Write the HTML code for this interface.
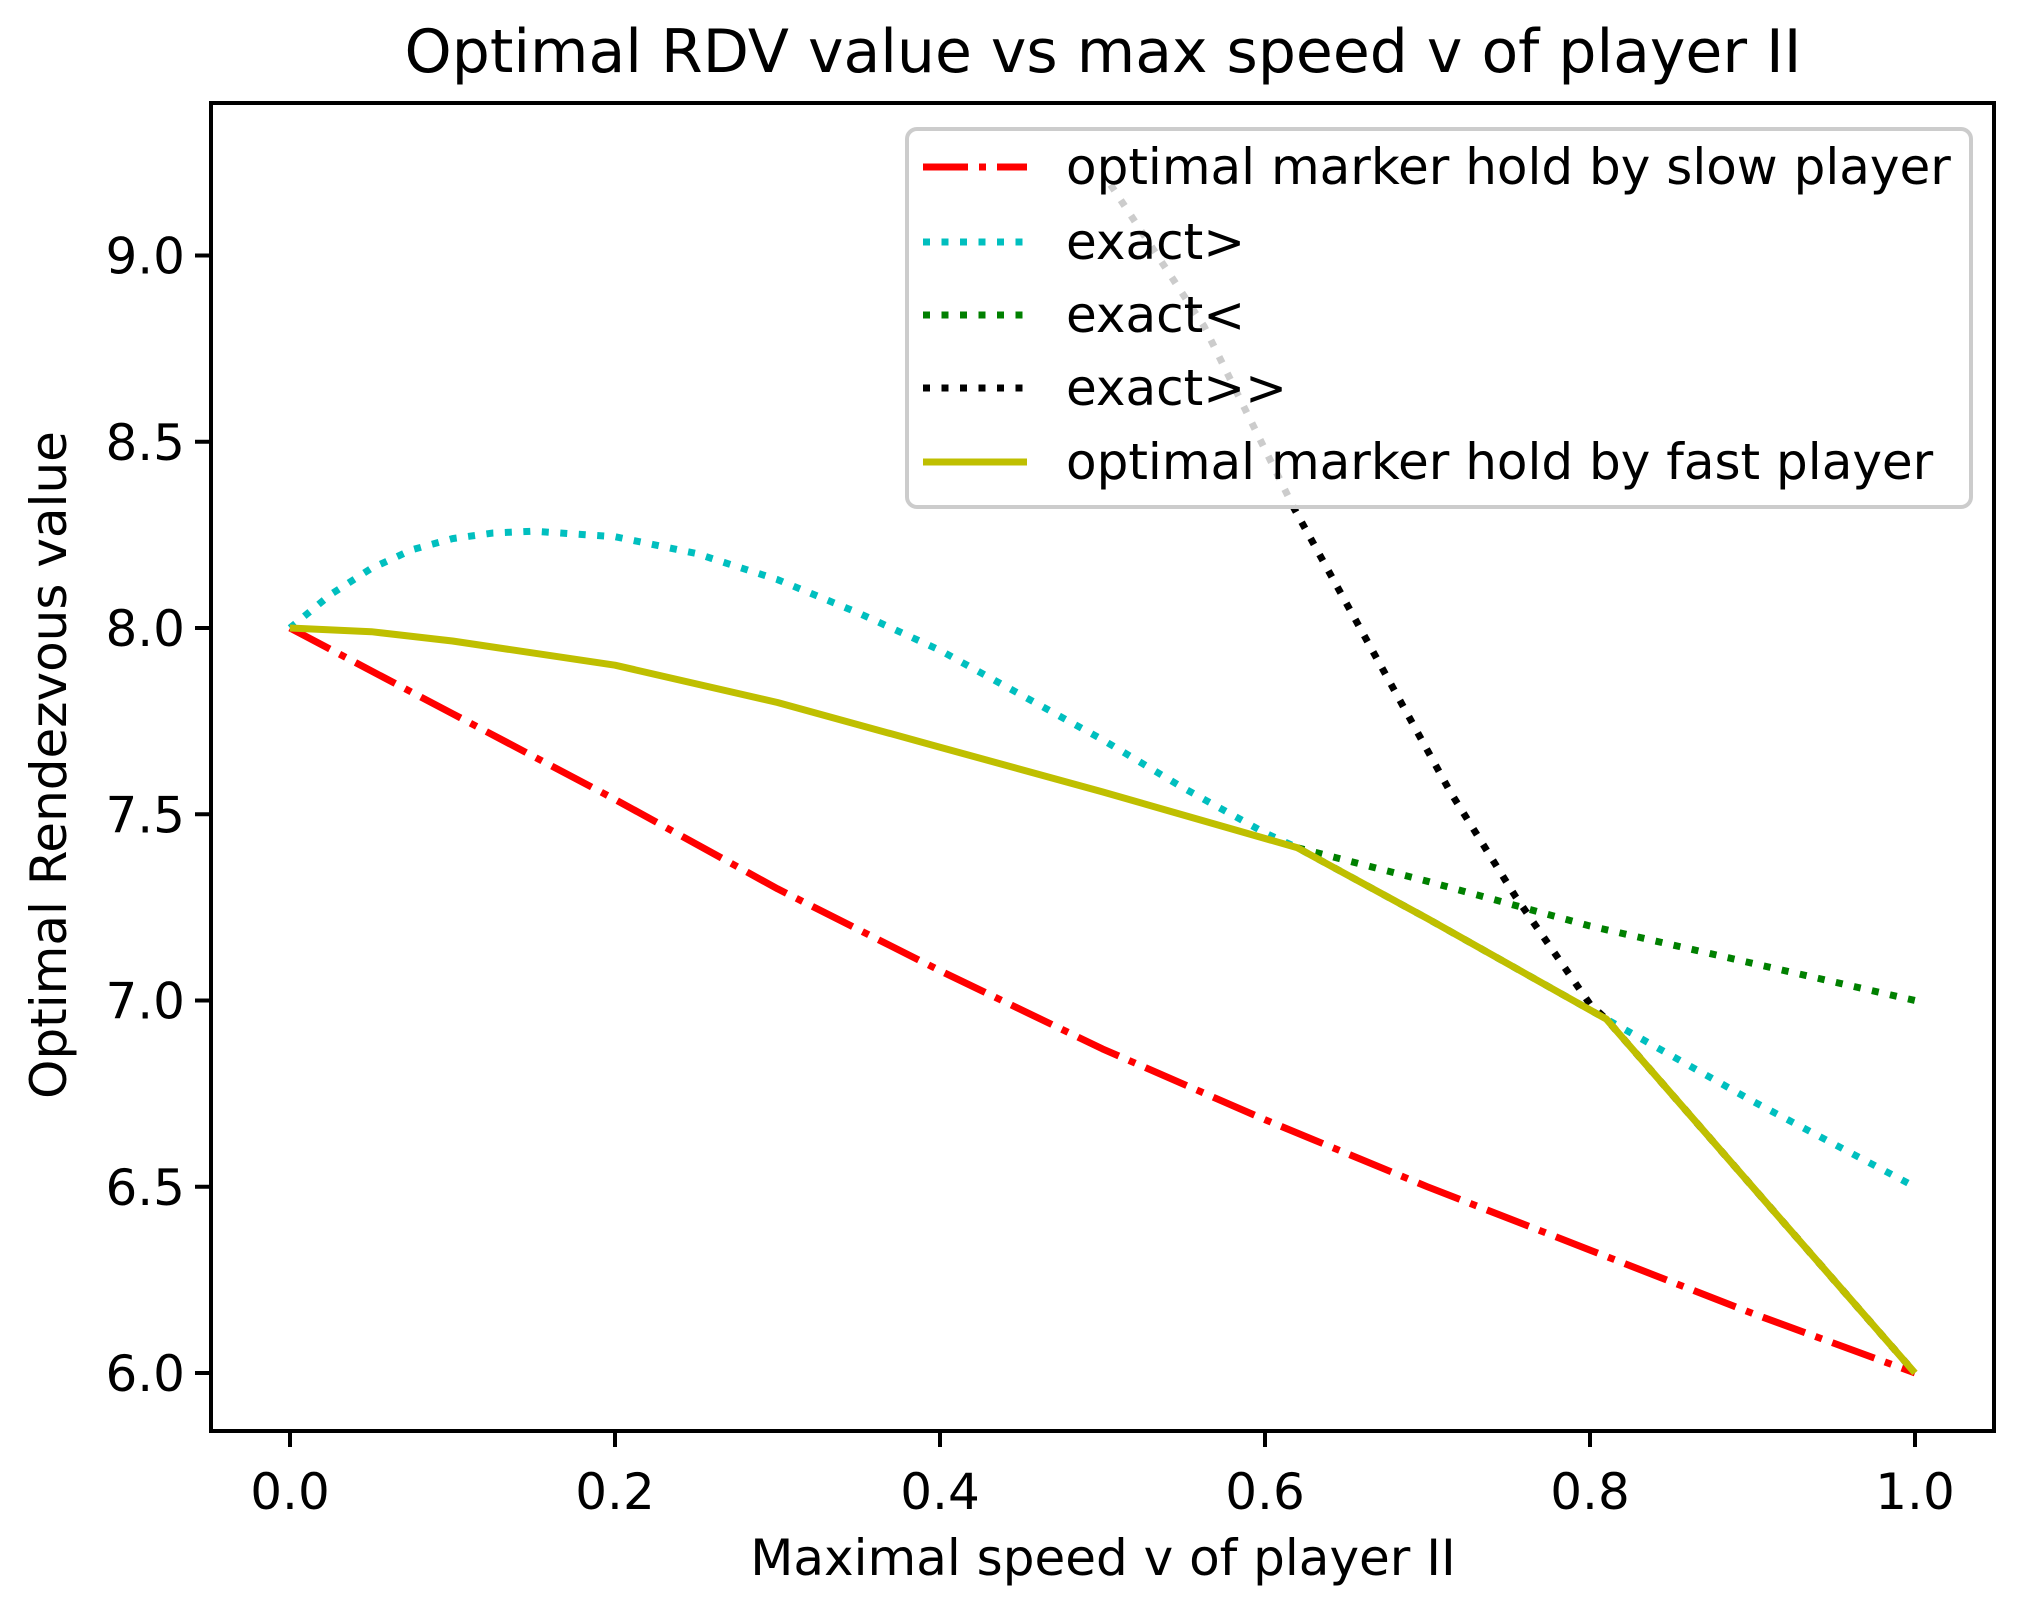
<!DOCTYPE html>
<html><head><meta charset="utf-8"><style>
html,body{margin:0;padding:0;background:#fff}
svg{display:block;font-family:"DejaVu Sans","Liberation Sans",sans-serif}
</style></head><body>
<svg id="chart" width="2033" height="1609" viewBox="0 0 2033 1609" xmlns="http://www.w3.org/2000/svg">
<rect width="2033" height="1609" fill="#fff"/>
<text x="1103" y="72" text-anchor="middle" font-size="60">Optimal RDV value vs max speed v of player II</text>
<g id="plot"></g>
<g id="axes"></g>
<text x="1103" y="1575" text-anchor="middle" font-size="50">Maximal speed v of player II</text>
<text x="0" y="0" transform="translate(66,765) rotate(-90)" text-anchor="middle" font-size="50">Optimal Rendezvous value</text>
<g id="legend"></g>
</svg>
<script>
const xTicks = [0.0, 0.2, 0.4, 0.6, 0.8, 1.0];
const xTickLabels = ["0.0","0.2","0.4","0.6","0.8","1.0"];
const yTicks = [6.0, 6.5, 7.0, 7.5, 8.0, 8.5, 9.0];
const yTickLabels = ["6.0","6.5","7.0","7.5","8.0","8.5","9.0"];

const slowX = [0,0.1,0.2,0.3,0.4,0.5,0.6,0.7,0.8,0.9,1.0];
const slowY = [8,7.77,7.54,7.30,7.08,6.87,6.68,6.50,6.33,6.16,6.0];
const gtX = [0,0.025,0.05,0.075,0.1,0.125,0.15,0.2,0.25,0.3,0.35,0.4,0.45,0.5,0.55,0.6,0.62,0.7,0.81,0.9,1.0];
const gtY = [8,8.09,8.16,8.21,8.24,8.255,8.26,8.245,8.2,8.13,8.04,7.94,7.82,7.70,7.57,7.45,7.41,7.22,6.95,6.73,6.5];
const ltX = [0.62,0.7,0.8,0.9,1.0];
const ltY = [7.41,7.32,7.2,7.1,7.0];
const ggX = [0.505,0.5625,0.618,0.666,0.714,0.754,0.8,0.81,0.9,1.0];
const ggY = [9.19,8.81,8.32,7.94,7.56,7.28,6.99,6.95,6.5,6.0];
const fastX = [0,0.05,0.1,0.2,0.3,0.4,0.5,0.62,0.7,0.81,0.9,1.0];
const fastY = [8,7.99,7.965,7.9,7.8,7.68,7.56,7.41,7.22,6.95,6.5,6.0];

const L=211,R=1994,T=103,B=1431;
function sx(v){return 290+(v-0)*(1915-290);}
function sy(v){return 1373-(v-6)*(1373-255.5)/3;}
const NS="http://www.w3.org/2000/svg";
function mk(tag,attrs,parent){const e=document.createElementNS(NS,tag);for(const k in attrs)e.setAttribute(k,attrs[k]);parent.appendChild(e);return e;}
const plot=document.getElementById('plot'),axes=document.getElementById('axes'),leg=document.getElementById('legend');
const cp=mk('clipPath',{id:'clip'},plot);
mk('rect',{x:L,y:T,width:R-L,height:B-T},cp);

const series=[
 {x:slowX,y:slowY,c:'#ff0000',d:'45 11 7 11',n:'slow-player-line'},
 {x:gtX,y:gtY,c:'#00bfbf',d:'7 11.5',n:'exact-gt-line'},
 {x:ltX,y:ltY,c:'#008000',d:'7 11.5',n:'exact-lt-line'},
 {x:ggX,y:ggY,c:'#000000',d:'7 11.5',n:'exact-gg-line'},
 {x:fastX,y:fastY,c:'#bfbf00',d:'',n:'fast-player-line'}
];
series.forEach(s=>{
 const pts=s.x.map((v,i)=>sx(v).toFixed(1)+','+sy(s.y[i]).toFixed(1)).join(' ');
 const p=mk('polyline',{points:pts,fill:'none',stroke:s.c,'stroke-width':7,'stroke-linejoin':'round','clip-path':'url(#clip)'},plot);
 if(s.d)p.setAttribute('stroke-dasharray',s.d);
 
 
});

const frame=mk('rect',{x:L,y:T,width:R-L,height:B-T,fill:'none',stroke:'#000','stroke-width':4},axes);


xTicks.forEach((v,i)=>{
 const t=mk('line',{x1:sx(v),x2:sx(v),y1:B,y2:B+16,stroke:'#000','stroke-width':4},axes);
 
 
 const l=mk('text',{x:sx(v),y:B+78,'text-anchor':'middle','font-size':50},axes);
 l.textContent=xTickLabels[i];
 
 
});
yTicks.forEach((v,i)=>{
 const t=mk('line',{x1:L-16,x2:L,y1:sy(v),y2:sy(v),stroke:'#000','stroke-width':4},axes);
 
 
 const l=mk('text',{x:L-26,y:sy(v)+18,'text-anchor':'end','font-size':50},axes);
 l.textContent=yTickLabels[i];
 
 
});

const box=mk('rect',{x:907,y:129,width:1064,height:378,rx:10,fill:'#fff','fill-opacity':0.8,stroke:'#cccccc','stroke-width':4},leg);


const legLabels=['optimal marker hold by slow player','exact>','exact<','exact>>','optimal marker hold by fast player'];
const legY=[167,242,315,388,462];
series.forEach((s,i)=>{
 const ln=mk('line',{x1:923,x2:1027,y1:legY[i],y2:legY[i],stroke:s.c,'stroke-width':7},leg);
 if(s.d)ln.setAttribute('stroke-dasharray',s.d);
 
 
 const tx=mk('text',{x:1066,y:legY[i]+17,'font-size':50},leg);
 tx.textContent=legLabels[i];
 
 
});
</script>
</body></html>
